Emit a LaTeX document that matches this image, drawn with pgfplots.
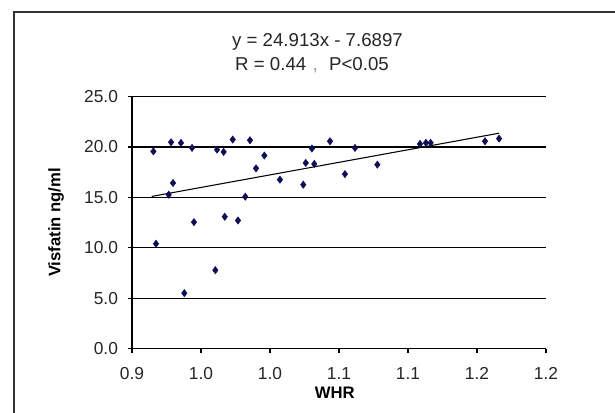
\documentclass[border=0pt]{standalone}
\usepackage{pgfplots}
\pgfplotsset{compat=1.18}
\usepackage{fontspec}
\setmainfont{Liberation Sans}
\definecolor{navy}{RGB}{15,15,85}
\definecolor{commablue}{RGB}{120,160,200}
\begin{document}
\begin{tikzpicture}[x=0.75pt,y=0.75pt]
\useasboundingbox (0,0) rectangle (615,412);
\fill[white] (0,0) rectangle (615,412);
\draw[line width=1.5pt, black!80] (14,-8) -- (14,400) -- (620,400);
\begin{axis}[
  at={(99pt,47.625pt)}, anchor=south west,
  scale only axis, width=310.5pt, height=189pt,
  xmin=0.9, xmax=1.2, ymin=0, ymax=25,
  axis lines*=left,
  axis line style={black, line width=0.9pt},
  xtick={0.9,0.95,1,1.05,1.1,1.15,1.2},
  xticklabels={0.9,1.0,1.0,1.1,1.1,1.2,1.2},
  ytick={0,5,10,15,20,25},
  yticklabels={0.0,5.0,10.0,15.0,20.0,25.0},
  ymajorgrids, grid style={black, line width=0.9pt},
  tick align=outside, major tick length=3pt,
  tick style={black, line width=0.9pt},
  /pgf/number format/assume math mode=true,
  tick label style={font=\fontsize{13}{15}\selectfont, text=black!85},
  xticklabel style={yshift=-7.7pt},
  yticklabel style={xshift=-4pt},
  xlabel={\textbf{WHR}},
  ylabel={\textbf{Visfatin ng/ml}},
  label style={font=\fontsize{12.5}{14}\selectfont},
  xlabel style={at={(axis description cs:0.49,-0.1746)}, anchor=center},
  ylabel style={at={(axis description cs:-0.1836,0.5)}, anchor=center, rotate=0},
  clip=false,
]
\addplot[only marks, mark=diamond*, mark size=2.7pt, color=navy] table {
x y
0.9155 19.56
0.9174 10.39
0.9283 20.46
0.9297 16.42
0.9266 15.26
0.9355 20.40
0.9379 5.49
0.9435 19.90
0.9449 12.54
0.9604 7.77
0.9616 19.73
0.9664 19.50
0.9672 13.07
0.9730 20.73
0.9768 12.70
0.9821 15.06
0.9855 20.66
0.9899 17.87
0.9959 19.14
1.0072 16.75
1.0241 16.25
1.0259 18.41
1.0304 19.84
1.0321 18.31
1.0435 20.56
1.0543 17.30
1.0616 19.90
1.0778 18.24
1.1087 20.30
1.1130 20.40
1.1164 20.40
1.1558 20.56
1.1660 20.82
};
\addplot[black, line width=0.8pt] coordinates {(0.9143,15.088) (1.166,21.359)};
\end{axis}
\node[font=\fontsize{14}{16}\selectfont, anchor=base, text=black!85] at (317.5,365.3) {y = 24.913x - 7.6897};
\node[font=\fontsize{14}{16}\selectfont, anchor=base, text=black!85] at (312,342) {R = 0.44\,\,{\color{commablue},}\,\, P<0.05};
\end{tikzpicture}
\end{document}
